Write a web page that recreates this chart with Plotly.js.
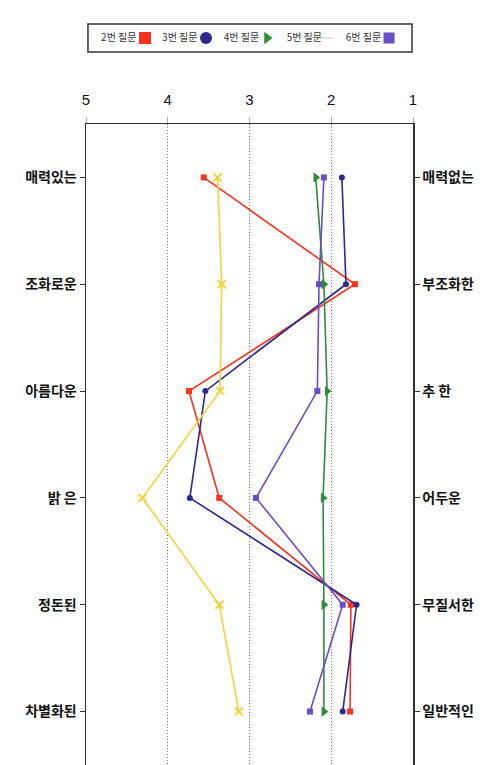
<!DOCTYPE html>
<html><head><meta charset="utf-8">
<script src="https://cdn.plot.ly/plotly-3.0.1.min.js"></script>
<style>body{margin:0;background:#fff}#c{width:486px;height:765px}</style>
</head><body><div id="c"></div>
<script>
const leftLabels = ['매력있는','조화로운','아름다운','밝 은','정돈된','차별화된'];
const rightLabels = ['매력없는','부조화한','추 한','어두운','무질서한','일반적인'];
const rows = [0,1,2,3,4,5];
const xTicks = [5,4,3,2,1];
const seriesNames = ['2번 질문','3번 질문','4번 질문','5번 질문','6번 질문'];
const legendSlots = [0,1,2,3,4];
const q2 = [3.56,1.71,3.74,3.37,1.76,1.77];
const q3 = [1.87,1.82,3.54,3.73,1.69,1.86];
const q4 = [2.19,2.09,2.05,2.10,2.09,2.09];
const q5 = [3.39,3.34,3.36,4.31,3.37,3.13];
const q6 = [2.09,2.15,2.17,2.92,1.86,2.26];

const colors = ['#f5321e','#2b2a8c','#2e8b3a','#f2d33c','#6a4cc4'];
const legendColors = ['#f5321e','#2b2a8c','#2e8b3a','#e8e8e0','#6a4cc4'];
const symbols = ['square','circle','triangle-right','x-thin','square'];
const markerSizes = [6,6,9,8,6];
const legendSymbols = ['square','circle','triangle-right','line-ew','square'];
const values = [q2,q3,q4,q5,q6];

const traces = values.map((v,i)=>({
  type:'scatter', mode:'lines+markers', name:seriesNames[i], showlegend:false,
  x:v, y:rows,
  line:{color:colors[i], width:1.6},
  marker:{color:colors[i], symbol:symbols[i], size:markerSizes[i], opacity:1, line:{color:colors[i], width:i===3?2:0}}
}));
// invisible trace for right-side labels
traces.push({type:'scatter', mode:'markers', x:[3], y:[0], yaxis:'y2', showlegend:false, hoverinfo:'skip', marker:{opacity:0}});
// custom legend: text before marker, like the reference
traces.push({
  type:'scatter', mode:'markers+text', xaxis:'x3', yaxis:'y3', showlegend:false, hoverinfo:'skip',
  x:legendSlots, y:legendSlots.map(()=>0), text:seriesNames, textposition:'middle left',
  textfont:{family:'Noto Sans CJK KR, sans-serif', size:10, color:'#333'},
  marker:{color:legendColors, symbol:legendSymbols, size:[12,12,11,8,11], opacity:1,
          line:{color:legendColors, width:[0,0,0,2,0]}}
});

const plotTop = 124, H = 765;
const labelFont = {family:'Noto Sans CJK KR, sans-serif', size:14, color:'#111', weight:'bold'};
const layout = {
  width:486, height:H,
  margin:{l:86, r:73, t:0, b:0},
  paper_bgcolor:'#fff', plot_bgcolor:'rgba(0,0,0,0)',
  showlegend:false,
  xaxis:{side:'top', range:[5,1], tickvals:xTicks, ticktext:xTicks.map(String),
    showgrid:true, gridcolor:'#777', griddash:'1px,2px', gridwidth:1.2,
    zeroline:false, showline:true, linecolor:'#333', linewidth:1.5, mirror:false,
    ticks:'outside', ticklen:6, tickcolor:'#aaa', ticklabelstandoff:6,
    tickfont:{family:'Liberation Sans, Arial, sans-serif', size:15, color:'#111'}},
  yaxis:{domain:[0,(H-plotTop)/H], range:[5.5,-0.5], tickvals:rows, ticktext:leftLabels, showgrid:false, zeroline:false,
    showline:true, linecolor:'#333', linewidth:1.5, ticks:'outside', ticklen:5, tickcolor:'#333',
    tickfont:labelFont},
  yaxis2:{overlaying:'y', side:'right', range:[5.5,-0.5], tickvals:rows, ticktext:rightLabels,
    showgrid:false, zeroline:false, showline:true, linecolor:'#333', linewidth:1.5,
    ticks:'outside', ticklen:5, tickcolor:'#333', tickfont:labelFont},
  xaxis3:{domain:[0,1], anchor:'y3', range:[-0.967,4.393], visible:false, fixedrange:true},
  yaxis3:{domain:[(H-52)/H,(H-24)/H], anchor:'x3', range:[-1,1], visible:false, fixedrange:true},
  shapes:[{type:'rect', xref:'paper', yref:'paper', x0:0.006, x1:0.997, y0:(H-52)/H, y1:(H-24)/H,
    line:{color:'#333', width:1.5}, fillcolor:'rgba(0,0,0,0)'}]
};
Plotly.newPlot('c', traces, layout, {displayModeBar:false, staticPlot:true});
</script></body></html>
